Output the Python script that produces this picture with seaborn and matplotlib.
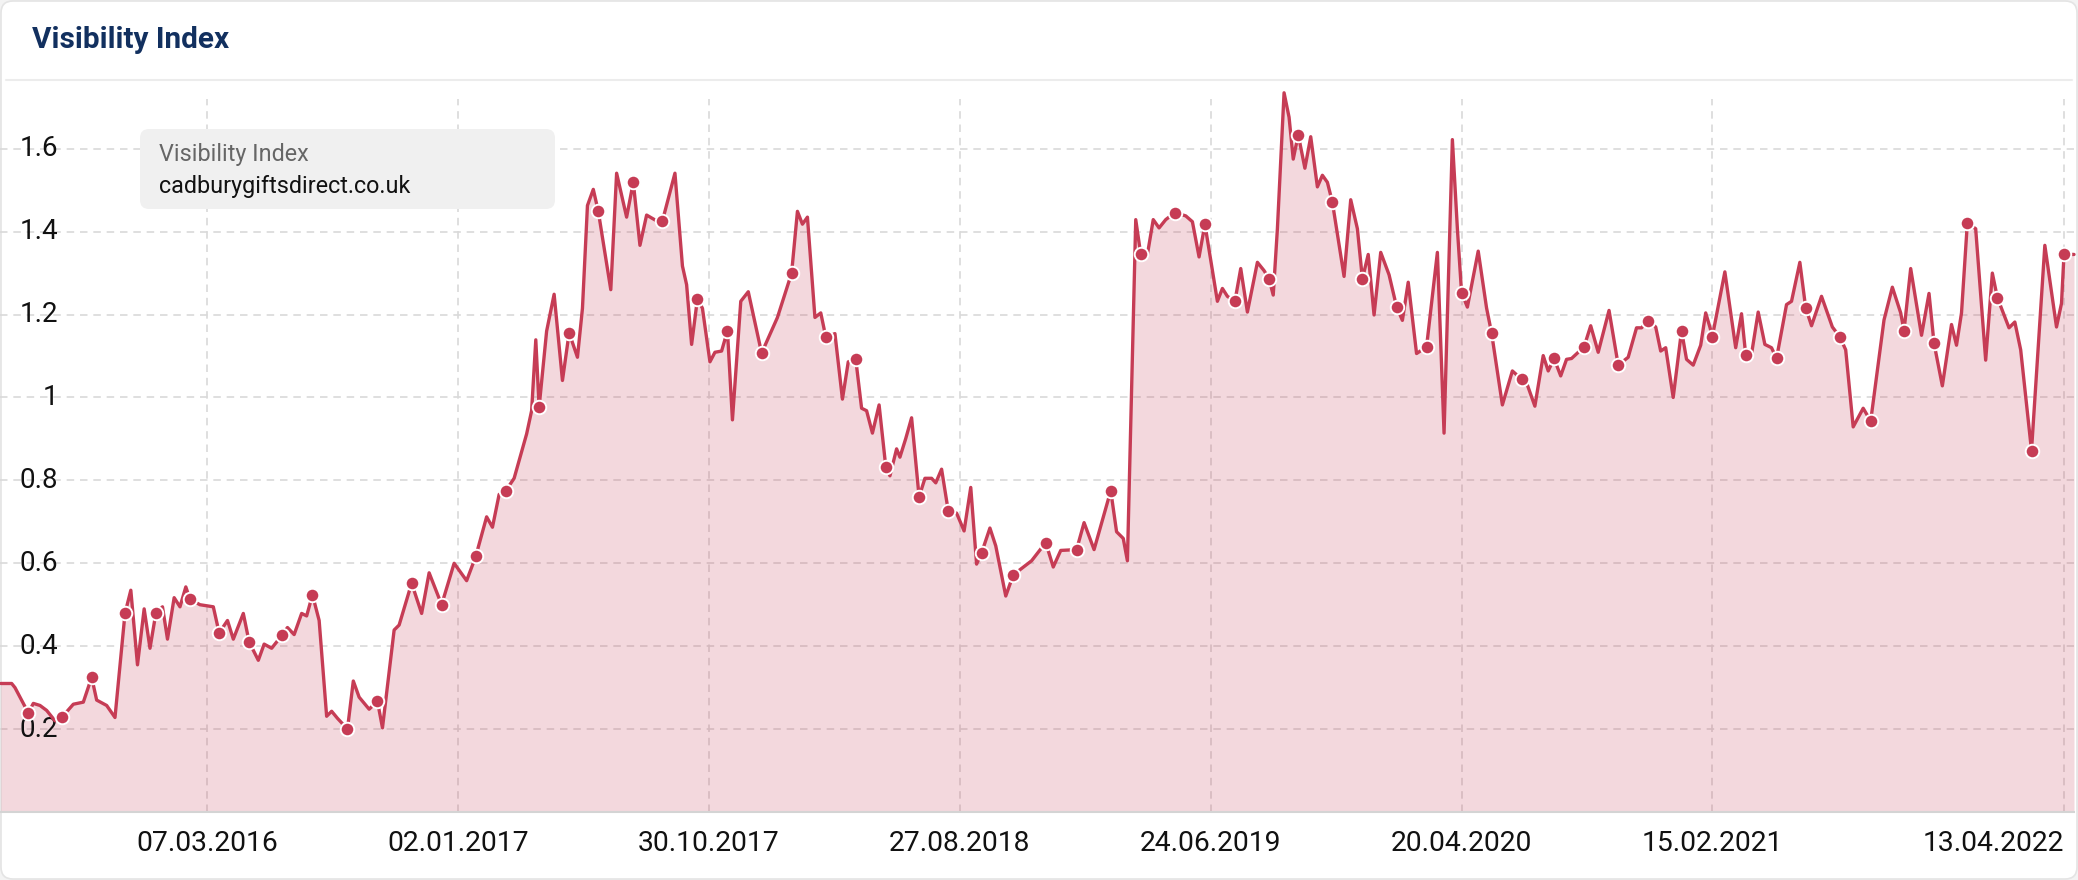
"""
Visibility Index chart for cadburygiftsdirect.co.uk (weekly values read off the screenshot).

Output: out.png
"""

import pandas as pd
import matplotlib

matplotlib.use("Agg")
import matplotlib.pyplot as plt
from matplotlib.patches import FancyBboxPatch
from matplotlib.lines import Line2D
import seaborn as sns

# ---- data -------------------------------------------------------------------
START = "2015-07-03"  # day 0

days = [
    0, 13, 17, 33, 39, 47, 55, 65, 73, 87, 99, 109, 115, 127, 137, 149, 156, 164, 172, 179,
    186, 194, 200, 208, 215, 222, 227, 239, 255, 262, 272, 279, 291, 298, 309, 316, 325, 338, 344, 352,
    361, 367, 374, 382, 391, 397, 404, 416, 423, 430, 442, 452, 458, 472, 478, 493, 505, 514, 529, 544,
    559, 570, 583, 590, 598, 606, 616, 631, 637, 642, 646, 655, 664, 674, 682, 692, 698, 704, 711, 717,
    732, 739, 751, 759, 767, 775, 787, 794, 809, 818, 823, 829, 836, 842, 851, 857, 865, 872, 878, 888,
    897, 913, 932, 949, 956, 962, 968, 977, 984, 990, 1001, 1010, 1017, 1026, 1033, 1039, 1046, 1054, 1062, 1067,
    1075, 1079, 1086, 1093, 1102, 1109, 1117, 1122, 1129, 1137, 1147, 1156, 1164, 1171, 1177, 1187, 1194, 1206, 1215, 1230,
    1237, 1254, 1263, 1272, 1291, 1300, 1312, 1332, 1339, 1347, 1352, 1362, 1368, 1376, 1383, 1390, 1398, 1409, 1422, 1430,
    1438, 1445, 1460, 1466, 1472, 1481, 1488, 1496, 1508, 1516, 1522, 1527, 1532, 1540, 1546, 1551, 1557, 1565, 1572, 1580,
    1586, 1592, 1598, 1612, 1620, 1628, 1634, 1641, 1648, 1656, 1666, 1675, 1682, 1689, 1699, 1711, 1724, 1732, 1742, 1748,
    1753, 1760, 1773, 1783, 1789, 1802, 1814, 1825, 1832, 1841, 1851, 1857, 1864, 1872, 1879, 1885, 1900, 1908, 1917, 1930,
    1941, 1953, 1963, 1969, 1977, 1986, 1992, 1998, 2007, 2017, 2023, 2031, 2040, 2046, 2051, 2054, 2069, 2082, 2089, 2094,
    2100, 2109, 2117, 2125, 2131, 2143, 2149, 2159, 2166, 2173, 2185, 2198, 2207, 2214, 2223, 2235, 2244, 2260, 2270, 2280,
    2284, 2292, 2305, 2314, 2320, 2330, 2341, 2347, 2353, 2360, 2370, 2382, 2390, 2396, 2410, 2417, 2424, 2437, 2453, 2467,
    2473, 2476, 2488,
]

vis = [
    0.31, 0.31, 0.30, 0.239, 0.262, 0.257, 0.245, 0.22, 0.228, 0.26, 0.265, 0.325, 0.27, 0.257, 0.228, 0.479, 0.535, 0.355, 0.49, 0.395,
    0.479, 0.495, 0.417, 0.517, 0.495, 0.543, 0.513, 0.50, 0.495, 0.432, 0.462, 0.417, 0.479, 0.41, 0.366, 0.405, 0.395, 0.428, 0.445, 0.428,
    0.479, 0.473, 0.524, 0.462, 0.231, 0.243, 0.226, 0.20, 0.316, 0.277, 0.248, 0.267, 0.203, 0.439, 0.451, 0.552, 0.479, 0.577, 0.50, 0.60,
    0.558, 0.617, 0.712, 0.687, 0.766, 0.775, 0.805, 0.912, 0.968, 1.139, 0.977, 1.16, 1.249, 1.041, 1.156, 1.097, 1.215, 1.463, 1.502, 1.449,
    1.26, 1.541, 1.435, 1.519, 1.367, 1.44, 1.426, 1.426, 1.541, 1.317, 1.272, 1.128, 1.238, 1.215, 1.086, 1.109, 1.112, 1.161, 0.946, 1.232,
    1.255, 1.107, 1.193, 1.30, 1.449, 1.418, 1.435, 1.193, 1.204, 1.146, 1.154, 0.996, 1.086, 1.092, 0.974, 0.968, 0.914, 0.982, 0.833, 0.811,
    0.876, 0.856, 0.901, 0.951, 0.76, 0.805, 0.805, 0.794, 0.827, 0.726, 0.721, 0.678, 0.783, 0.598, 0.625, 0.685, 0.642, 0.521, 0.572, 0.595,
    0.606, 0.65, 0.591, 0.631, 0.633, 0.698, 0.633, 0.775, 0.676, 0.66, 0.606, 1.429, 1.345, 1.345, 1.429, 1.409, 1.429, 1.446, 1.438, 1.424,
    1.339, 1.418, 1.232, 1.263, 1.244, 1.232, 1.311, 1.206, 1.326, 1.306, 1.286, 1.247, 1.407, 1.735, 1.676, 1.575, 1.634, 1.553, 1.629, 1.508,
    1.536, 1.519, 1.471, 1.292, 1.477, 1.407, 1.286, 1.345, 1.199, 1.35, 1.296, 1.219, 1.186, 1.278, 1.106, 1.122, 1.35, 0.914, 1.622, 1.407,
    1.253, 1.218, 1.353, 1.216, 1.156, 0.982, 1.064, 1.044, 1.03, 0.979, 1.101, 1.064, 1.094, 1.052, 1.092, 1.094, 1.122, 1.173, 1.109, 1.21,
    1.078, 1.097, 1.168, 1.168, 1.185, 1.17, 1.112, 1.12, 1.0, 1.161, 1.092, 1.078, 1.126, 1.204, 1.17, 1.147, 1.303, 1.12, 1.202, 1.103,
    1.092, 1.206, 1.128, 1.12, 1.094, 1.224, 1.232, 1.326, 1.216, 1.173, 1.244, 1.17, 1.146, 1.115, 0.929, 0.974, 0.943, 1.187, 1.266, 1.204,
    1.161, 1.311, 1.15, 1.251, 1.131, 1.028, 1.176, 1.126, 1.204, 1.421, 1.407, 1.09, 1.30, 1.241, 1.168, 1.182, 1.115, 0.872, 1.367, 1.17,
    1.227, 1.345, 1.345,
]

# points that carry a round marker in the original
marker_days = [
    33, 73, 109, 149, 186, 227, 262, 298, 338, 374, 416, 452, 493, 529, 570, 606, 646, 682, 717, 759,
    794, 836, 872, 913, 949, 990, 1026, 1062, 1102, 1137, 1177, 1215, 1254, 1291, 1332, 1368, 1409, 1445, 1481, 1522,
    1557, 1598, 1634, 1675, 1711, 1753, 1789, 1825, 1864, 1900, 1941, 1977, 2017, 2054, 2094, 2131, 2166, 2207, 2244, 2284,
    2320, 2360, 2396, 2437, 2476,
]

tick_dates = ["2016-03-07", "2017-01-02", "2017-10-30", "2018-08-27",
              "2019-06-24", "2020-04-20", "2021-02-15", "2022-04-13"]
tick_labels = ["07.03.2016", "02.01.2017", "30.10.2017", "27.08.2018",
               "24.06.2019", "20.04.2020", "15.02.2021", "13.04.2022"]
y_ticks = [0.2, 0.4, 0.6, 0.8, 1.0, 1.2, 1.4, 1.6]

domain = "cadburygiftsdirect.co.uk"

# ---- style ------------------------------------------------------------------
LINE = "#c63c55"
GRID = "#d9d9d9"
TITLE = "#12305f"

sns.set_theme(style="white")
plt.rcParams["font.family"] = ["Roboto", "DejaVu Sans"]

W, H, DPI = 2078, 880, 100


def main():
    start = pd.Timestamp(START)
    df = pd.DataFrame({"day": days, "vis": vis})
    df["date"] = start + pd.to_timedelta(df["day"], unit="D")
    marks = df[df["day"].isin(marker_days)]

    fig = plt.figure(figsize=(W / DPI, H / DPI), dpi=DPI)
    fig.patch.set_facecolor("#f3f3f3")

    # white card with rounded corners
    card = FancyBboxPatch((0.01, 0.01), W / DPI - 0.02, H / DPI - 0.02,
                          boxstyle="round,pad=0,rounding_size=0.12",
                          transform=fig.dpi_scale_trans, facecolor="white",
                          edgecolor="#e4e4e4", lw=1.2, zorder=-10)
    fig.patches.append(card)
    fig.add_artist(Line2D([0.003, 0.997], [1 - 80 / H] * 2, color="#ececec", lw=1.5))
    fig.text(32 / W, 1 - 40 / H, "Visibility Index", fontsize=21.4, fontweight="bold",
             color=TITLE, ha="left", va="center")

    ax = fig.add_axes([0, 1 - 812 / H, 2074 / W, (812 - 99) / H])
    ax.set_facecolor("none")
    ax.set_axisbelow(True)

    ax.fill_between(df["date"], 0, df["vis"], color=LINE, alpha=0.2, lw=0, zorder=1)
    sns.lineplot(data=df, x="date", y="vis", ax=ax, color=LINE, lw=2.4, zorder=3,
                 clip_on=False, solid_joinstyle="round", solid_capstyle="round")
    sns.scatterplot(data=marks, x="date", y="vis", ax=ax, s=95, color=LINE,
                    edgecolor="white", linewidth=1.4, zorder=4, clip_on=False)

    ax.set_xlim(start - pd.Timedelta(days=1), start + pd.Timedelta(days=days[-1]))
    ax.set_ylim(0, 1.72)

    ax.set_xticks(pd.to_datetime(tick_dates))
    ax.set_xticklabels(tick_labels)
    ax.set_yticks(y_ticks)
    ax.set_yticklabels([])
    ax.tick_params(axis="x", length=0, pad=13, labelsize=20.3, labelcolor="#111111")
    ax.tick_params(axis="y", length=0)
    ax.get_xticklabels()[-1].set_ha("right")

    ax.grid(True, color=GRID, lw=1.2, linestyle=(0, (4.5, 3.5)))
    for v in y_ticks:
        ax.text(0.028, v, f"{v:g}", transform=ax.get_yaxis_transform(), ha="right",
                va="center", fontsize=20, color="#111111", zorder=2)

    ax.set_xlabel("")
    ax.set_ylabel("")
    for side in ["top", "right", "left"]:
        ax.spines[side].set_visible(False)
    ax.spines["bottom"].set_color("#d4d4d4")
    ax.spines["bottom"].set_linewidth(1.5)

    # legend box
    box = FancyBboxPatch((140 / DPI, (H - 209) / DPI), 415 / DPI, 80 / DPI,
                         boxstyle="round,pad=0,rounding_size=0.09",
                         transform=fig.dpi_scale_trans, facecolor="#f0f0f0",
                         edgecolor="none", zorder=5)
    fig.patches.append(box)
    fig.text(159 / W, 1 - 154 / H, "Visibility Index", fontsize=16.8, color="#666666",
             ha="left", va="center", zorder=6)
    fig.text(159 / W, 1 - 186 / H, domain, fontsize=16.8, color="#111111",
             ha="left", va="center", zorder=6)

    fig.savefig("out.png", dpi=DPI, facecolor=fig.get_facecolor())
    plt.close(fig)


if __name__ == "__main__":
    main()
